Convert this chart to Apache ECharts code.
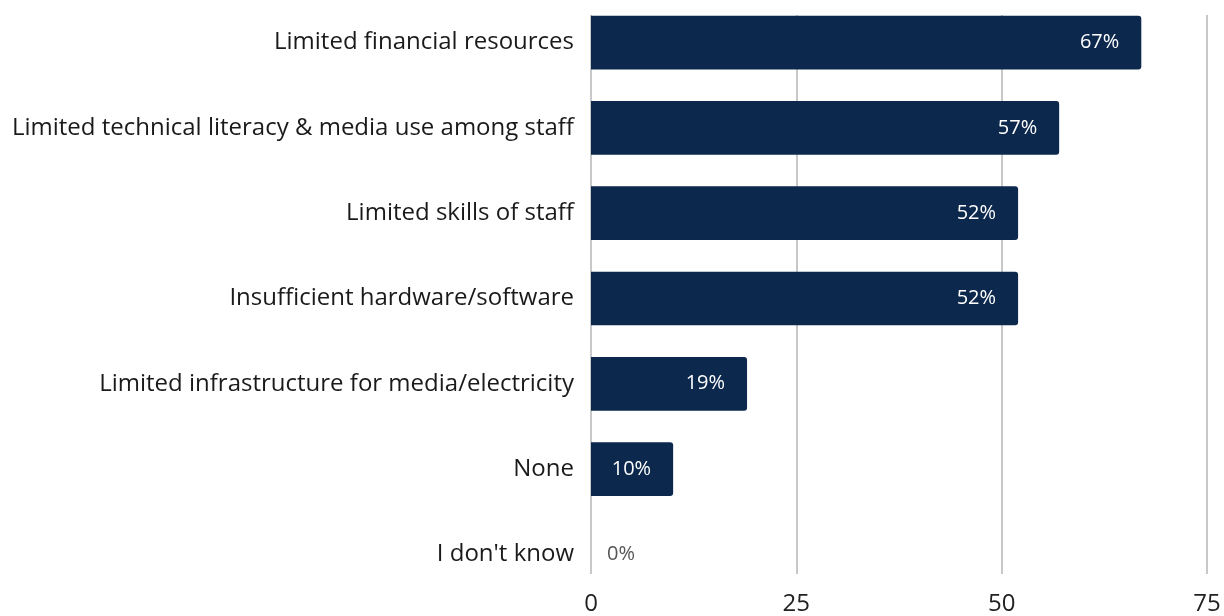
<!DOCTYPE html>
<html>
<head>
<meta charset="utf-8">
<script src="https://cdn.jsdelivr.net/npm/echarts@6/dist/echarts.min.js"></script>
<style>
  html, body { margin: 0; padding: 0; background: #ffffff; }
  #chart { width: 1224px; height: 616px; }
</style>
</head>
<body>
<div id="chart"></div>
<script>
// Barriers reported by respondents (share, %)
const categories = [
  'Limited financial resources',
  'Limited technical literacy & media use among staff',
  'Limited skills of staff',
  'Insufficient hardware/software',
  'Limited infrastructure for media/electricity',
  'None',
  "I don't know"
];
const values = [67, 57, 52, 52, 19, 10, 0];
const axisTicks = [0, 25, 50, 75];

const FONT = '"Open Sans", "Noto Sans", sans-serif';
const BAR_COLOR = '#0c284d';

const chart = echarts.init(document.getElementById('chart'), null, { renderer: 'canvas' });

chart.setOption({
  animation: false,
  backgroundColor: '#ffffff',
  grid: [
    // bars and category labels
    { left: 591, right: 17, top: 0, height: 597, containLabel: false },
    // vertical gridlines and value ticks
    { left: 591, right: 17, top: 15, height: 567, containLabel: false }
  ],
  xAxis: [
    {
      gridIndex: 0, type: 'value', min: axisTicks[0], max: axisTicks[axisTicks.length - 1],
      interval: 25, show: false
    },
    {
      gridIndex: 1, type: 'value', min: axisTicks[0], max: axisTicks[axisTicks.length - 1],
      interval: 25,
      axisLine: { show: false }, axisTick: { show: false },
      splitLine: { show: true, lineStyle: { color: '#c8c8c8', width: 2 } },
      axisLabel: { fontFamily: FONT, fontSize: 24, color: '#222222', margin: 18 }
    }
  ],
  yAxis: [
    {
      gridIndex: 0, type: 'category', data: categories, inverse: true,
      axisLine: { show: false }, axisTick: { show: false }, splitLine: { show: false },
      axisLabel: { fontFamily: FONT, fontSize: 24, color: '#1a1a1a', margin: 17 }
    },
    {
      gridIndex: 1, type: 'category', data: categories, show: false
    }
  ],
  series: [
    {
      type: 'bar', xAxisIndex: 0, yAxisIndex: 0,
      barCategoryGap: '37%',
      itemStyle: { color: BAR_COLOR, borderRadius: [0, 3, 3, 0] },
      label: {
        show: true,
        position: 'insideRight',
        distance: 22,
        formatter: p => p.value + '%',
        fontFamily: FONT, fontSize: 20, color: '#ffffff'
      },
      // a zero-valued bar has no room inside, so its label sits outside in grey
      data: values.map(v => v === 0
        ? { value: v, label: { position: 'right', distance: 16, color: '#555555' } }
        : v)
    }
  ]
});
</script>
</body>
</html>
